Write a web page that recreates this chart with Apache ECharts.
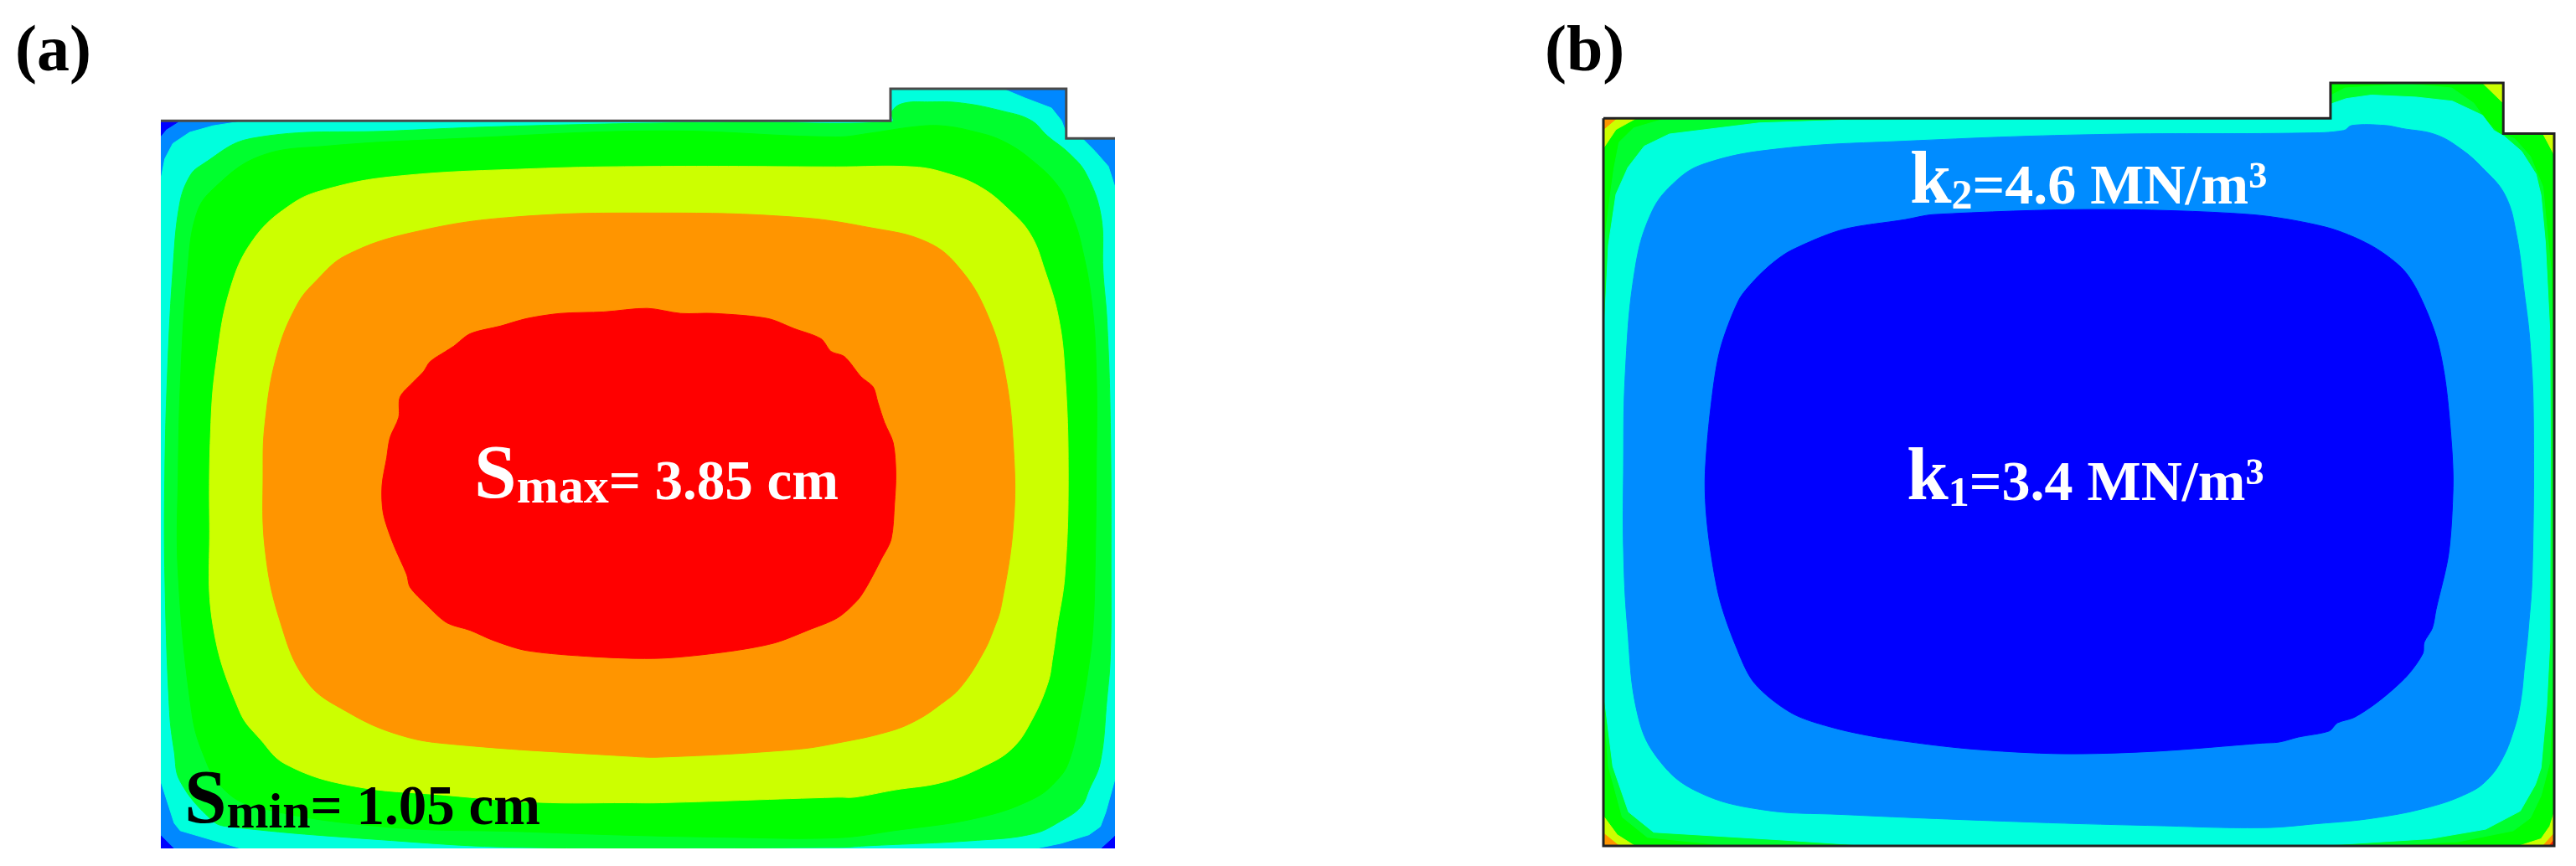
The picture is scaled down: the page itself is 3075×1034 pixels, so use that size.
<!DOCTYPE html>
<html><head><meta charset="utf-8">
<script src="https://cdn.jsdelivr.net/npm/echarts@6/dist/echarts.min.js"></script>
<style>html,body{margin:0;padding:0;background:#fff}#c{width:3075px;height:1034px}</style></head>
<body><div id="c"></div>
<script>
// Settlement contours, panel (a) (plate units, y grows downward)
const plateA=[[52,105],[1144,105],[1144,42],[1407,42],[1407,140],[1480,140],[1480,1540],[52,1540]];
const edgeA=[[52,105],[1144,105],[1144,42],[1407,42],[1407,140],[1480,140]];
const deepA1=[[52,105],[78,107],[60,122],[52,135]];
const deepA2=[[52,1515],[71,1540],[52,1540]];
const deepA3=[[1480,1516],[1480,1540],[1460,1540]];
const cyanA=[[52,220],[58,180],[70,150],[95,128],[130,115],[179,105],[1144,105],[1144,42],[1312,42],[1345,60],[1385,80],[1400,105],[1407,130],[1407,140],[1431,140],[1450,165],[1470,195],[1480,236],[1480,1403],[1466,1469],[1458,1497],[1441,1513],[1399,1530],[1362,1540],[172,1540],[81,1505],[72,1490],[52,1408]];
const springA=[[112,193],[187,140],[400,125],[600,115],[900,108],[1146,107],[1146,87],[1162,71],[1200,68],[1250,70],[1312,86],[1354,104],[1379,135],[1412,170],[1437,210],[1459,292],[1462,400],[1468,500],[1473,700],[1474,1000],[1473,1161],[1468,1244],[1458,1370],[1441,1425],[1429,1458],[1399,1486],[1358,1511],[1274,1524],[1107,1535],[1065,1538],[593,1538],[382,1523],[153,1497],[129,1485],[81,1408],[72,1348],[65,1270],[58,1000],[58,800],[62,600],[70,400],[80,270],[95,215]];
const greenA=[[130,240],[200,175],[300,155],[500,140],[800,125],[1062,137],[1116,129],[1179,117],[1221,115],[1271,127],[1312,145],[1354,181],[1396,236],[1416,292],[1429,346],[1445,460],[1452,600],[1452,800],[1450,1000],[1447,1106],[1441,1178],[1429,1271],[1412,1365],[1395,1403],[1358,1442],[1274,1480],[1149,1505],[1065,1519],[900,1518],[750,1514],[593,1507],[382,1497],[191,1457],[143,1419],[115,1353],[98,1270],[78,1000],[78,800],[82,600],[92,400],[105,290]];
const limeA=[[247,270],[300,240],[400,215],[600,200],[800,195],[1062,196],[1179,196],[1229,209],[1279,236],[1321,280],[1354,330],[1375,400],[1395,490],[1405,600],[1410,800],[1405,1000],[1393,1106],[1387,1161],[1379,1216],[1353,1293],[1326,1343],[1287,1376],[1224,1409],[1149,1425],[1090,1439],[1065,1439],[800,1450],[750,1450],[617,1449],[478,1435],[335,1416],[239,1374],[201,1325],[170,1270],[130,1100],[125,900],[127,700],[135,580],[155,440],[190,340]];
const orangeA=[[205,800],[208,700],[225,570],[255,470],[285,420],[330,370],[430,325],[580,295],[800,287],[1000,295],[1110,315],[1200,345],[1250,400],[1290,490],[1315,600],[1328,750],[1328,900],[1310,1060],[1299,1106],[1282,1156],[1249,1222],[1220,1255],[1182,1288],[1140,1310],[1065,1332],[1000,1345],[800,1360],[750,1358],[492,1335],[411,1317],[330,1270],[270,1210],[230,1090],[208,950]];
const redA=[[383,825],[390,770],[395,730],[408,690],[410,650],[430,620],[445,600],[455,580],[478,560],[490,550],[515,525],[560,510],[600,495],[650,485],[715,482],[780,475],[830,485],[880,485],[960,495],[1000,515],[1040,535],[1055,560],[1075,570],[1100,610],[1118,630],[1125,660],[1135,700],[1148,740],[1152,800],[1150,860],[1145,930],[1130,970],[1110,1020],[1095,1050],[1065,1085],[1020,1110],[970,1135],[900,1152],[800,1165],[700,1162],[600,1150],[550,1130],[515,1110],[480,1095],[450,1060],[425,1025],[420,1000],[400,940],[385,880]];
// Subgrade reaction contours, panel (b)
const plateB=[[20,100],[1177,100],[1177,30],[1452,30],[1452,130],[1533,130],[1533,1537],[20,1537]];
const edgeB=[[20,100],[1177,100],[1177,30],[1452,30],[1452,130],[1533,130],[1533,1537],[20,1537],[20,100]];
const limeB1=[[20,100],[72,100],[40,122],[20,159]];
const limeB2=[[1419,30],[1452,30],[1452,70]];
const limeB3=[[1515,130],[1533,130],[1533,172]];
const limeB4=[[20,1478],[42,1515],[70,1537],[20,1537]];
const limeB5=[[1533,1471],[1526,1498],[1512,1523],[1477,1537],[1533,1537]];
const orangeB1=[[20,100],[41,100],[20,122]];
const orangeB2=[[20,1512],[45,1537],[20,1537]];
const orangeB3=[[1533,1512],[1515,1537],[1533,1537]];
const redB=[[1533,1525],[1525,1537],[1533,1537]];
const springB=[[20,360],[30,260],[37,197],[45,147],[68,119],[117,101],[1177,100],[1177,55],[1200,40],[1300,32],[1370,40],[1405,70],[1425,105],[1445,130],[1470,140],[1495,175],[1515,235],[1528,400],[1533,700],[1533,1100],[1528,1300],[1526,1372],[1512,1438],[1495,1482],[1468,1507],[1379,1529],[1246,1537],[200,1534],[90,1520],[50,1480],[28,1380],[20,1250]];
const cyanB=[[22,500],[28,350],[40,250],[59,197],[85,155],[125,131],[268,109],[415,103],[1177,100],[1179,71],[1202,61],[1242,54],[1313,58],[1371,66],[1419,94],[1437,124],[1453,135],[1481,165],[1504,210],[1512,252],[1519,346],[1526,520],[1527,750],[1526,1135],[1521,1261],[1512,1383],[1503,1416],[1479,1468],[1424,1504],[1335,1523],[1192,1534],[1112,1537],[450,1537],[300,1525],[100,1510],[60,1470],[35,1380],[22,1250]];
const blueB=[[52,800],[55,600],[70,400],[95,290],[130,230],[180,190],[300,160],[500,145],[800,132],[1135,129],[1198,124],[1211,114],[1264,114],[1291,120],[1344,132],[1384,160],[1419,198],[1455,252],[1473,330],[1485,440],[1495,550],[1500,700],[1498,1000],[1492,1107],[1486,1179],[1479,1256],[1468,1311],[1450,1366],[1426,1407],[1397,1432],[1335,1460],[1246,1482],[1157,1493],[1068,1501],[900,1497],[700,1490],[400,1475],[270,1465],[170,1430],[110,1370],[75,1280],[58,1100],[52,950]];
const deepB=[[182,800],[190,680],[205,560],[235,460],[260,420],[290,385],[320,360],[400,320],[500,300],[545,290],[800,280],[1050,290],[1170,315],[1240,350],[1290,395],[1315,440],[1345,530],[1360,620],[1370,750],[1372,830],[1365,960],[1345,1070],[1339,1107],[1326,1135],[1324,1157],[1299,1201],[1255,1250],[1215,1283],[1188,1294],[1175,1310],[1126,1322],[1095,1332],[1068,1334],[900,1350],[750,1355],[600,1345],[470,1325],[390,1305],[320,1275],[260,1215],[230,1140],[205,1050],[190,950],[183,870]];

const layersA=[[plateA,'#0088ff',0],[deepA1,'#0000ff',0],[deepA2,'#0000ff',0],[deepA3,'#0000ff',0],[cyanA,'#00ffdd',0],[springA,'#00ff2e',.4],[greenA,'#00ff00',.4],[limeA,'#ccff00',.4],[orangeA,'#ff9500',.4],[redA,'#ff0000',.3]];
const layersB=[[plateB,'#00ff00',0],[limeB1,'#ccff00',0],[limeB2,'#ccff00',0],[limeB3,'#ccff00',0],[limeB4,'#ccff00',0],[limeB5,'#ccff00',0],[orangeB1,'#ff9500',0],[orangeB2,'#ff9500',0],[orangeB3,'#ff9500',0],[redB,'#ff2200',0],[springB,'#00ff2e',0],[cyanB,'#00ffdd',0],[blueB,'#008cff',.4],[deepB,'#0000ff',.3]];

const F='"Liberation Serif","Times New Roman",serif';
function tok(color,size,pad){return {fontFamily:F,fontWeight:'bold',fontSize:size,fill:color,color:color,verticalAlign:'bottom',padding:[0,0,pad,0]};}
const labelsA=[
  [521,884,'{b|S}{s|max}{r|= 3.85 cm}','#ffffff',[91,0],[60,1],[67,4]],
  [87,1525,'{b|S}{s|min}{r|= 1.05 cm}','#000000',[91,0],[60,1],[67,4]]];
const labelsB=[
  [508,302,'{b|k}{s|2}{r|=4.6 MN/m}{u|³}','#ffffff',[89,0],[50,2],[68,4],[74,3]],
  [503,888,'{b|k}{s|1}{r|=3.4 MN/m}{u|³}','#ffffff',[89,0],[50,2],[68,4],[74,3]]];

function polySeries(layers,plate,idx){return {type:'custom',coordinateSystem:'cartesian2d',xAxisIndex:idx,yAxisIndex:idx,silent:true,animation:false,clip:true,
  data:layers.map((l,i)=>[i]),encode:{x:-1,y:-1},
  renderItem:(p,api)=>{const l=layers[p.dataIndex];
    return {type:'polygon',shape:{points:l[0].map(q=>api.coord(q)),smooth:l[2]||0},
      clipPath:{type:'polygon',shape:{points:plate.map(q=>api.coord(q))}},
      style:{fill:l[1],stroke:l[1],lineWidth:1}};}};}
function edgeSeries(edge,idx,col,w){return {type:'custom',coordinateSystem:'cartesian2d',xAxisIndex:idx,yAxisIndex:idx,silent:true,animation:false,clip:false,
  data:[[0]],encode:{x:-1,y:-1},
  renderItem:(p,api)=>({type:'polyline',shape:{points:edge.map(q=>api.coord(q))},style:{fill:'none',stroke:col,lineWidth:w}})};}
function labelSeries(labels,idx){return {type:'custom',coordinateSystem:'cartesian2d',xAxisIndex:idx,yAxisIndex:idx,silent:true,animation:false,clip:false,z:5,
  data:labels.map((l,i)=>[i]),encode:{x:-1,y:-1},
  renderItem:(p,api)=>{const l=labels[p.dataIndex],c=api.coord([l[0],l[1]]);
    const rich={b:tok(l[3],l[4][0],l[4][1]),s:tok(l[3],l[5][0],l[5][1]),r:tok(l[3],l[6][0],l[6][1])};
    if(l[7]) rich.u=tok(l[3],l[7][0],l[7][1]);
    return {type:'text',x:c[0],y:c[1],style:{text:l[2],align:'left',verticalAlign:'bottom',rich:rich}};}};}

const chart=echarts.init(document.getElementById('c'),null,{renderer:'canvas'});
const hidden={show:false};
chart.setOption({
  backgroundColor:'#fff',animation:false,
  title:[
    {text:'(a)',left:18,top:25,padding:0,textStyle:{fontFamily:F,fontWeight:'bold',fontSize:78,color:'#000'}},
    {text:'(b)',left:1844,top:25,padding:0,textStyle:{fontFamily:F,fontWeight:'bold',fontSize:78,color:'#000'}}
  ],
  grid:[{left:192,top:106,width:1139,height:907},{left:1914,top:99,width:1135,height:911}],
  xAxis:[{type:'value',gridIndex:0,min:52,max:1480,...hidden},{type:'value',gridIndex:1,min:20,max:1533,...hidden}],
  yAxis:[{type:'value',gridIndex:0,min:42,max:1540,inverse:true,...hidden},{type:'value',gridIndex:1,min:30,max:1537,inverse:true,...hidden}],
  series:[polySeries(layersA,plateA,0),edgeSeries(edgeA,0,'#4a4a4a',3),labelSeries(labelsA,0),
          polySeries(layersB,plateB,1),edgeSeries(edgeB,1,'#222222',3),labelSeries(labelsB,1)]
});
</script></body></html>
